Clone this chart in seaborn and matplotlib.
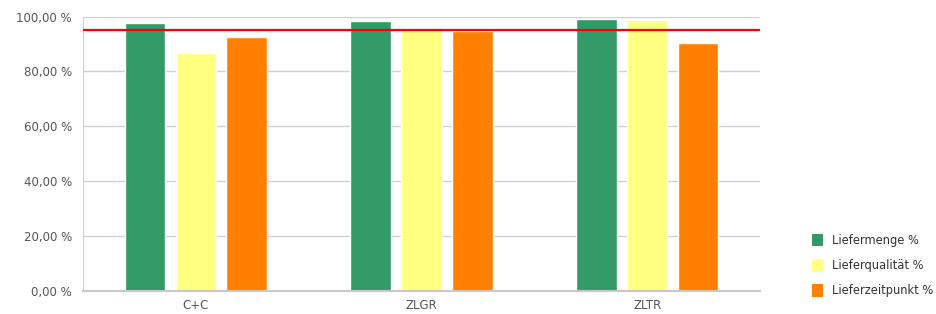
import pandas as pd
import matplotlib.pyplot as plt
import seaborn as sns
from matplotlib.patches import Patch
from matplotlib.ticker import FuncFormatter

# Daten
kategorien = ['C+C', 'ZLGR', 'ZLTR']
liefermenge = [97.8, 98.3, 99.3]
lieferqualitaet = [86.9, 96.0, 98.9]
lieferzeitpunkt = [92.4, 94.9, 90.2]
serien = ['Liefermenge %', 'Lieferqualität %', 'Lieferzeitpunkt %']
farben = ['#339966', '#ffff80', '#ff8000']
zielwert = 95.0

df = pd.DataFrame({
    'Kategorie': kategorien * 3,
    'Serie': [serien[0]] * 3 + [serien[1]] * 3 + [serien[2]] * 3,
    'Wert': liefermenge + lieferqualitaet + lieferzeitpunkt,
})

sns.set_style('white')
plt.rcParams['font.family'] = ['DejaVu Sans']

fig = plt.figure(figsize=(9.37, 3.14), dpi=100)
ax = fig.add_axes([0.0886, 0.0732, 0.7225, 0.874])

sns.barplot(data=df, x='Kategorie', y='Wert', hue='Serie', palette=farben,
            width=0.675, gap=0.2, ax=ax, legend=False, saturation=1)

ax.axhline(zielwert, color='#ff0000', lw=1.6, zorder=5)

ax.set_ylim(0, 100)
ax.set_xlim(-0.5, 2.5)
ax.set_yticks([0, 20, 40, 60, 80, 100])
ax.yaxis.set_major_formatter(FuncFormatter(lambda v, p: f'{v:.2f}'.replace('.', ',') + ' %'))
ax.grid(axis='y', color='#d0d0d0', lw=1)
ax.set_axisbelow(True)
ax.set_xlabel('')
ax.set_ylabel('')
ax.tick_params(axis='both', length=0, labelsize=8.5, labelcolor='#555555', pad=8)
ax.tick_params(axis='x', pad=6)
for s in ['top', 'right']:
    ax.spines[s].set_visible(False)
ax.spines['left'].set_color('#d0d0d0')
ax.spines['bottom'].set_color('#c8c8c8')
ax.spines['bottom'].set_linewidth(1.5)

handles = [Patch(facecolor=c, edgecolor='none') for c in farben]
fig.legend(handles, serien, loc='center left', bbox_to_anchor=(0.855, 0.155),
           frameon=False, fontsize=8.3, handlelength=1.0, handleheight=1.3,
           labelspacing=1.05, handletextpad=0.75, labelcolor='#333333')

fig.savefig('out.png', dpi=100)
